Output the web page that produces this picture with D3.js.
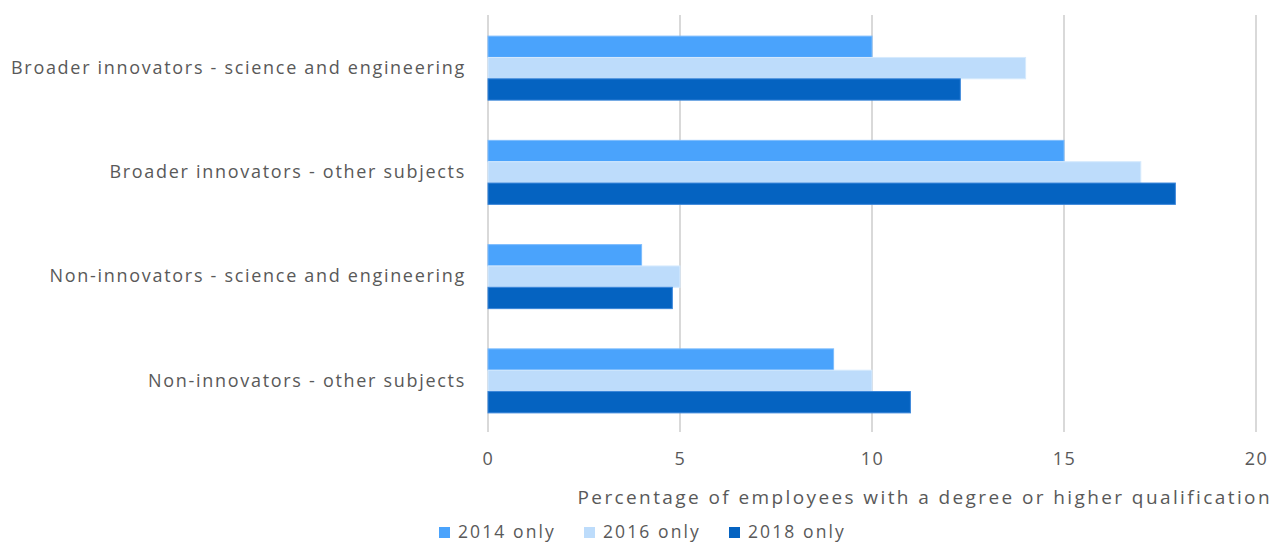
<!DOCTYPE html>
<html>
<head>
<meta charset="utf-8">
<script src="https://cdn.jsdelivr.net/npm/d3@7"></script>
<style>
  html, body { margin: 0; padding: 0; background: #fff; }
  svg { display: block; font-family: "Open Sans", sans-serif; }
</style>
</head>
<body>
<svg id="chart" width="1275" height="543"></svg>
<script>
// Categories, top to bottom
const categories = [
  "Broader innovators - science and engineering",
  "Broader innovators - other subjects",
  "Non-innovators - science and engineering",
  "Non-innovators - other subjects"
];
const seriesNames = ["2014 only", "2016 only", "2018 only"];
const values2014 = [10, 15, 4, 9];
const values2016 = [14, 17, 5, 10];
const values2018 = [12.3, 17.9, 4.8, 11];
const xTicks = [0, 5, 10, 15, 20];
const colors = ["#4aa3fc", "#bddcfb", "#0563c1"];
const strokes = ["#7dbcfd", "#d6eafd", "#3a86da"];
const axisTitle = "Percentage of employees with a degree or higher qualification";

const seriesValues = [values2014, values2016, values2018];
const rows = categories.map((c, i) => ({
  category: c,
  vals: seriesNames.map((s, k) => ({ series: s, k, value: seriesValues[k][i] }))
}));

const svg = d3.select("#chart");
const plot = { left: 488, right: 1256, top: 15, bottom: 432 };
const textColor = "#595959";

const x = d3.scaleLinear().domain([0, 20]).range([plot.left, plot.right]);
const y0 = d3.scaleBand().domain(categories).range([plot.top, plot.bottom])
  .paddingInner(0.386).paddingOuter(0.193);
const y1 = d3.scaleBand().domain(seriesNames).range([0, y0.bandwidth()]).padding(0);

// Vertical gridlines
svg.append("g").selectAll("line").data(xTicks).join("line")
  .attr("x1", d => x(d)).attr("x2", d => x(d))
  .attr("y1", plot.top).attr("y2", plot.bottom)
  .attr("stroke", "#d9d9d9").attr("stroke-width", 2);

// Bars
const groups = svg.append("g").selectAll("g").data(rows).join("g")
  .attr("transform", d => `translate(0,${y0(d.category) + 1})`);
groups.selectAll("rect").data(d => d.vals).join("rect")
  .attr("x", x(0))
  .attr("y", d => y1(d.series))
  .attr("width", d => x(d.value) - x(0))
  .attr("height", y1.bandwidth())
  .attr("fill", d => colors[d.k])
  .attr("stroke", d => strokes[d.k])
  .attr("stroke-width", 1);

// Category labels
const yAxis = d3.axisLeft(y0).tickSize(0).tickPadding(0);
const yg = svg.append("g").attr("transform", `translate(${plot.left - 22},1)`).call(yAxis);
yg.select(".domain").remove();
yg.selectAll("text").attr("fill", textColor).attr("font-size", 18)
  .attr("letter-spacing", 1.7)
  .attr("font-family", "Open Sans, sans-serif");

// X tick labels
const xAxis = d3.axisBottom(x).tickValues(xTicks).tickSize(0).tickPadding(0);
const xg = svg.append("g").attr("transform", `translate(0,${plot.bottom + 20})`).call(xAxis);
xg.select(".domain").remove();
xg.selectAll("text").attr("fill", textColor).attr("font-size", 18)
  .attr("letter-spacing", 1.5)
  .attr("font-family", "Open Sans, sans-serif");

// Axis title
svg.append("text")
  .attr("x", 1272).attr("y", 504)
  .attr("text-anchor", "end")
  .attr("fill", textColor).attr("font-size", 19)
  .attr("letter-spacing", 2.4)
  .text(axisTitle);

// Legend
const legendX = [439, 584, 729];
const legend = svg.append("g").selectAll("g").data(seriesNames).join("g")
  .attr("transform", (d, i) => `translate(${legendX[i]},531)`);
legend.append("rect").attr("x", 0).attr("y", -4).attr("width", 11).attr("height", 11)
  .attr("fill", (d, i) => colors[i]);
legend.append("text").attr("x", 19).attr("y", 1).attr("dy", "0.35em")
  .attr("fill", textColor).attr("font-size", 17.5).attr("letter-spacing", 2.1)
  .text(d => d);
</script>
</body>
</html>
